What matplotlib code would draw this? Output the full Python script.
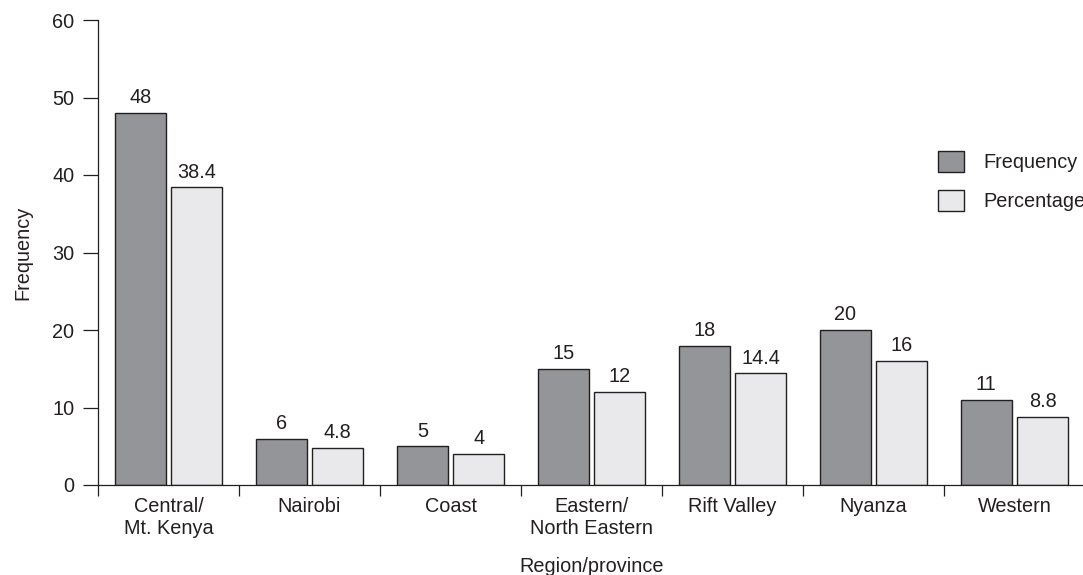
import matplotlib.pyplot as plt
import matplotlib.patches as mpatches
import numpy as np

# ── data ─────────────────────────────────────
regions = ['Central/\nMt. Kenya', 'Nairobi', 'Coast', 'Eastern/\nNorth Eastern',
           'Rift Valley', 'Nyanza', 'Western']
frequency = [48, 6, 5, 15, 18, 20, 11]
percentage = [38.4, 4.8, 4, 12, 14.4, 16, 8.8]

# ── style ────────────────────────────────────
plt.rcParams['font.family'] = ['Liberation Sans', 'DejaVu Sans']
ink = '#231f20'
dark = '#939598'
light = '#e9e9eb'
fs = 14.3

fig = plt.figure(figsize=(10.83, 5.75), dpi=100)
# axes runs a little past the right edge, like the cropped original
ax = fig.add_axes([98 / 1083, 1 - 485 / 575, 987 / 1083, 465 / 575])

x = np.arange(len(regions))
w = 0.36
b1 = ax.bar(x - 0.2, frequency, w, color=dark, edgecolor=ink, linewidth=1, label='Frequency')
b2 = ax.bar(x + 0.2, percentage, w, color=light, edgecolor=ink, linewidth=1, label='Percentage')
ax.bar_label(b1, labels=[f'{v:g}' for v in frequency], padding=4, fontsize=fs, color=ink)
ax.bar_label(b2, labels=[f'{v:g}' for v in percentage], padding=4, fontsize=fs, color=ink)

ax.set_xlim(-0.5, len(regions) - 0.5)
ax.set_ylim(0, 60)
ax.set_yticks(range(0, 61, 10))
ax.tick_params(axis='y', direction='out', length=11, width=0.9, color=ink,
               labelsize=fs, labelcolor=ink, pad=6)

ax.set_xticks(x)
ax.set_xticklabels(regions, linespacing=1.2)
ax.tick_params(axis='x', which='major', length=0, labelsize=fs, labelcolor=ink, pad=9)
ax.set_xticks(np.arange(-0.5, len(regions), 1), minor=True)
ax.tick_params(axis='x', which='minor', direction='out', length=8, width=0.9, color=ink)

for s in ['top', 'right']:
    ax.spines[s].set_visible(False)
for s in ['left', 'bottom']:
    ax.spines[s].set_color(ink)
    ax.spines[s].set_linewidth(0.9)

ax.set_ylabel('Frequency', fontsize=fs, color=ink)
ax.yaxis.set_label_coords(-66 / 987, 0.5)
ax.set_xlabel('Region/province', fontsize=fs, color=ink)
ax.xaxis.set_label_coords(0.5, -72 / 465)

dark_patch = mpatches.Patch(facecolor=dark, edgecolor=ink, label='Frequency')
light_patch = mpatches.Patch(facecolor=light, edgecolor=ink, label='Percentage')
fig.legend(handles=[dark_patch, light_patch], loc='upper left',
           bbox_to_anchor=(938 / 1083, 1 - 151 / 575), frameon=False,
           fontsize=fs, borderpad=0, borderaxespad=0, handlelength=1.3,
           handleheight=1.25, handletextpad=1.0, labelspacing=0.9, labelcolor=ink)

plt.savefig('out.png', dpi=100)
